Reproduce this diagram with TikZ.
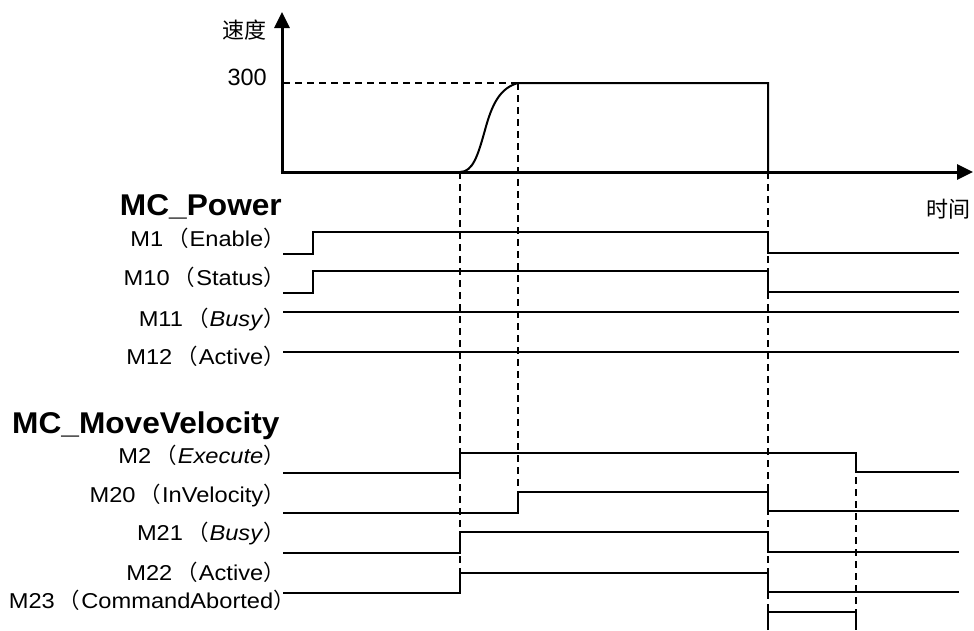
\documentclass[tikz,border=0pt]{standalone}
\usepackage{fontspec}
\setmainfont{Liberation Sans}
\newfontfamily\lblfont{Liberation Sans}[FakeStretch=1.10]
\newfontfamily\ttlfont{Liberation Sans}[FakeStretch=1.055]
\newfontfamily\cjk{Noto Sans CJK SC}
\usetikzlibrary{arrows.meta}
\newcommand{\lpar}{\hspace{4pt}{\cjk （}\hspace{1pt}}
\newcommand{\rpar}{{\cjk ）}}
\begin{document}
\begin{tikzpicture}[x=1pt,y=-1pt,
  axis/.style={line width=3pt,-{Triangle[length=16pt,width=15pt]}},
  sig/.style={line width=2pt},
  guide/.style={line width=1.8pt,dash pattern=on 7pt off 5pt},
  lbl/.style={anchor=base east,inner sep=0pt,font=\fontsize{21.5}{26}\lblfont},
  title/.style={inner sep=0pt,font=\fontsize{30}{36}\ttlfont\bfseries},
  cjklbl/.style={inner sep=0pt,font=\fontsize{22}{26}\selectfont\cjk}]
\useasboundingbox (0,0) rectangle (974,630);
% guides
\draw[guide] (283,83) -- (518,83);
\draw[guide] (460,172) -- (460,593);
\draw[guide] (518,83) -- (518,512);
\draw[guide] (768,172) -- (768,630);
\draw[guide] (856,453) -- (856,630);
% axes
\coordinate (O) at (282,172);
\coordinate (ytop) at (282,12);
\coordinate (xend) at (973,172);
\draw[axis] ([yshift=-1.5pt]O) -- (ytop);
\draw[axis] ([xshift=-1.5pt]O) -- (xend);
\node[cjklbl] (yl) at (244,30) {速度};
\node[cjklbl] (xl) at (948,209) {时间};
\node[anchor=base east,inner sep=0pt,font=\fontsize{23.5}{27}\selectfont] (v300) at (267,85) {300};
% velocity
\draw[line width=2pt] (460,172) .. controls (473,172) and (478,155) .. (485,130)
  .. controls (492,104) and (500,88) .. (518,83) -- (768,83) -- (768,172);
% MC_Power
\node[title,anchor=base east] (pw) at (282,215) {MC\_Power};
\node[lbl] (m1) at (285,246) {M1\lpar Enable\rpar};
\node[lbl] (m10) at (285,285) {M10\lpar Status\rpar};
\node[lbl] (m11) at (285,326) {M11\lpar\textit{Busy}\rpar};
\node[lbl] (m12) at (285,364) {M12\lpar Active\rpar};
\draw[sig] (283,254) -- (313,254) -- (313,232) -- (768,232) -- (768,253) -- (959,253);
\draw[sig] (283,293) -- (313,293) -- (313,271) -- (768,271) -- (768,292) -- (959,292);
\draw[sig] (283,312) -- (959,312);
\draw[sig] (283,352) -- (959,352);
% MC_MoveVelocity
\node[title,anchor=base west] (mv) at (12,433) {MC\_MoveVelocity};
\node[lbl] (m2) at (285,463) {M2\lpar\textit{Execute}\rpar};
\node[lbl] (m20) at (285,502) {M20\lpar InVelocity\rpar};
\node[lbl] (m21) at (285,540) {M21\lpar\textit{Busy}\rpar};
\node[lbl] (m22) at (285,580) {M22\lpar Active\rpar};
\node[lbl] (m23) at (295,608) {M23\lpar CommandAborted\rpar};
\draw[sig] (283,473) -- (460,473) -- (460,453) -- (856,453) -- (856,472) -- (959,472);
\draw[sig] (283,513) -- (518,513) -- (518,492) -- (768,492) -- (768,511) -- (959,511);
\draw[sig] (283,553) -- (460,553) -- (460,532) -- (768,532) -- (768,552) -- (959,552);
\draw[sig] (283,593) -- (460,593) -- (460,573) -- (768,573) -- (768,592) -- (959,592);
\draw[sig] (768,630) -- (768,612) -- (856,612) -- (856,630);
\end{tikzpicture}
\end{document}
